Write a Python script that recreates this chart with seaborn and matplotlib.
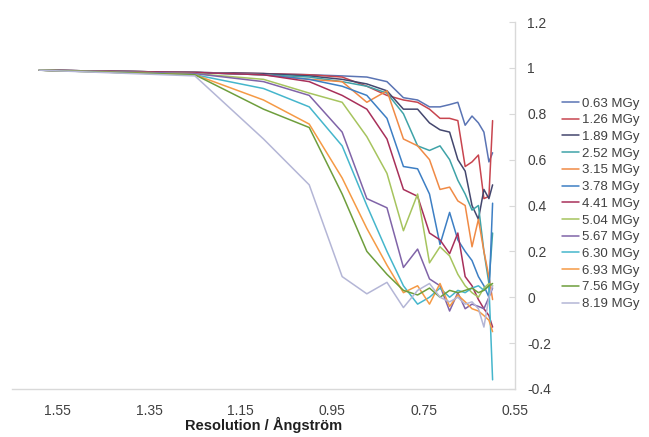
import matplotlib
matplotlib.use("Agg")
import matplotlib.pyplot as plt
import seaborn as sns
import pandas as pd

resolution = [1.59, 1.25, 1.10, 1.00, 0.928, 0.874, 0.830, 0.794, 0.763, 0.737,
              0.714, 0.693, 0.675, 0.659, 0.644, 0.630, 0.618, 0.607, 0.599]

doses = ["0.63 MGy", "1.26 MGy", "1.89 MGy", "2.52 MGy", "3.15 MGy", "3.78 MGy",
         "4.41 MGy", "5.04 MGy", "5.67 MGy", "6.30 MGy", "6.93 MGy", "7.56 MGy",
         "8.19 MGy"]

cc_063 = [0.99, 0.98, 0.975, 0.97, 0.965, 0.96, 0.94, 0.87, 0.86, 0.83, 0.83, 0.84, 0.85, 0.75, 0.79, 0.76, 0.72, 0.59, 0.63]
cc_126 = [0.99, 0.98, 0.975, 0.97, 0.96, 0.92, 0.88, 0.86, 0.85, 0.82, 0.78, 0.78, 0.77, 0.57, 0.59, 0.62, 0.43, 0.44, 0.77]
cc_189 = [0.99, 0.98, 0.975, 0.965, 0.95, 0.93, 0.90, 0.82, 0.82, 0.76, 0.73, 0.72, 0.60, 0.55, 0.40, 0.34, 0.47, 0.43, 0.49]
cc_252 = [0.99, 0.98, 0.97, 0.96, 0.94, 0.92, 0.89, 0.80, 0.66, 0.64, 0.66, 0.60, 0.51, 0.45, 0.38, 0.40, 0.20, 0.06, 0.28]
cc_315 = [0.99, 0.98, 0.97, 0.95, 0.94, 0.85, 0.90, 0.69, 0.66, 0.60, 0.47, 0.48, 0.42, 0.40, 0.22, 0.34, 0.20, 0.09, -0.01]
cc_378 = [0.99, 0.98, 0.97, 0.95, 0.92, 0.88, 0.78, 0.57, 0.56, 0.45, 0.23, 0.37, 0.25, 0.20, 0.16, 0.09, 0.05, 0.00, 0.41]
cc_441 = [0.99, 0.98, 0.97, 0.94, 0.88, 0.82, 0.69, 0.47, 0.44, 0.28, 0.25, 0.19, 0.28, 0.09, 0.05, -0.01, -0.05, -0.08, -0.13]
cc_504 = [0.99, 0.975, 0.95, 0.89, 0.85, 0.70, 0.54, 0.29, 0.45, 0.15, 0.22, 0.18, 0.10, 0.05, 0.02, 0.00, 0.04, 0.06, 0.05]
cc_567 = [0.99, 0.975, 0.94, 0.88, 0.72, 0.43, 0.39, 0.13, 0.21, 0.08, 0.05, -0.06, 0.02, -0.05, -0.03, -0.04, -0.05, 0.00, 0.04]
cc_630 = [0.99, 0.97, 0.91, 0.83, 0.66, 0.40, 0.20, 0.05, -0.03, 0.00, 0.04, 0.00, 0.03, 0.02, 0.04, 0.05, 0.03, 0.05, -0.36]
cc_693 = [0.99, 0.97, 0.86, 0.755, 0.52, 0.30, 0.14, 0.02, 0.05, -0.03, 0.06, -0.04, 0.01, -0.02, -0.05, -0.06, -0.08, -0.10, -0.15]
cc_756 = [0.99, 0.97, 0.82, 0.74, 0.45, 0.20, 0.10, 0.03, 0.01, 0.04, 0.00, 0.03, 0.02, 0.03, 0.04, 0.02, 0.03, 0.05, 0.06]
cc_819 = [0.99, 0.965, 0.69, 0.49, 0.09, 0.015, 0.065, -0.045, 0.03, 0.06, 0.00, -0.02, 0.00, -0.03, -0.02, -0.05, -0.13, 0.00, 0.05]

series = [cc_063, cc_126, cc_189, cc_252, cc_315, cc_378, cc_441, cc_504,
          cc_567, cc_630, cc_693, cc_756, cc_819]

colors = ["#5A74B4", "#C8454F", "#44476E", "#3FA3A8", "#F08A45", "#3D7FC4",
          "#A8305A", "#A6C45E", "#8064A8", "#45B6CC", "#F59A45", "#6E9E3C",
          "#B4B6D6"]

x_ticks = [1.55, 1.35, 1.15, 0.95, 0.75, 0.55]
x_tick_labels = ["1.55", "1.35", "1.15", "0.95", "0.75", "0.55"]
y_ticks = [-0.4, -0.2, 0, 0.2, 0.4, 0.6, 0.8, 1.0, 1.2]
y_tick_labels = ["-0.4", "-0.2", "0", "0.2", "0.4", "0.6", "0.8", "1", "1.2"]

rows = []
for d, vals in zip(doses, series):
    for r, v in zip(resolution, vals):
        rows.append({"Resolution": r, "CC": v, "Dose": d})
df = pd.DataFrame(rows)

sns.set_style("white")
plt.rcParams["font.family"] = ["Liberation Sans", "DejaVu Sans"]

fig = plt.figure(figsize=(6.49, 4.37), dpi=100)
ax = fig.add_axes([12 / 649, 1 - 389 / 437, (515 - 12) / 649, (389 - 22) / 437])

sns.lineplot(data=df, x="Resolution", y="CC", hue="Dose", hue_order=doses,
             palette=colors, sort=False, estimator=None, linewidth=1.1,
             legend=False, ax=ax)

ax.set_xlim(1.65, 0.55)
ax.set_ylim(-0.4, 1.2)

for s in ["top", "left"]:
    ax.spines[s].set_visible(False)
for s in ["bottom", "right"]:
    ax.spines[s].set_color("#D9D9D9")
    ax.spines[s].set_linewidth(1.0)

ax.set_xticks(x_ticks)
ax.set_xticklabels(x_tick_labels)
ax.set_yticks(y_ticks)
ax.set_yticklabels(y_tick_labels)
ax.tick_params(axis="x", direction="out", length=4, color="#D9D9D9",
               labelsize=10, labelcolor="#404040", pad=7)
ax.yaxis.set_ticks_position("right")
ax.tick_params(axis="y", which="both", left=False, right=True, direction="in",
               length=4, color="#D9D9D9", labelsize=10, labelcolor="#404040",
               pad=9)

ax.set_xlabel("Resolution / Ångström", fontsize=10.5, fontweight="bold",
              color="#202020", labelpad=-1)
ax.set_ylabel("")
ax.grid(False)

handles = ax.get_lines()[:len(doses)]
leg = fig.legend(handles, doses, loc="upper left",
                 bbox_to_anchor=(557 / 649, 1 - 92 / 437), frameon=False,
                 fontsize=9.5, handlelength=1.3, handletextpad=0.2,
                 labelspacing=0.34, borderaxespad=0)
for t in leg.get_texts():
    t.set_color("#404040")

fig.savefig("out.png", dpi=100)
